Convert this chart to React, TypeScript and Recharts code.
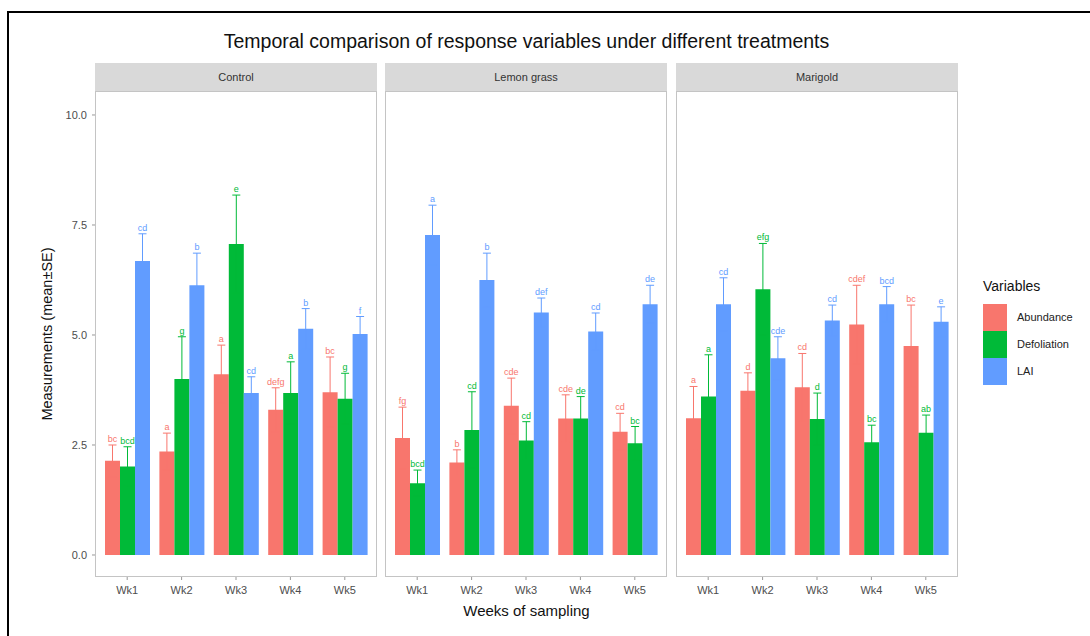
import { BarChart, Bar, XAxis, YAxis, ErrorBar, LabelList } from "recharts";

const weeks = ["Wk1", "Wk2", "Wk3", "Wk4", "Wk5"];
const treatments = ["Control", "Lemon grass", "Marigold"];
const yTicks = [0, 2.5, 5, 7.5, 10];

// one row per treatment (Control, Lemon grass, Marigold), one value per week
const abundanceMean = [
  [2.14, 2.35, 4.11, 3.3, 3.7],
  [2.66, 2.1, 3.39, 3.1, 2.8],
  [3.11, 3.73, 3.81, 5.24, 4.75],
];
const abundanceSE = [
  [0.36, 0.42, 0.66, 0.5, 0.8],
  [0.7, 0.29, 0.63, 0.54, 0.42],
  [0.72, 0.41, 0.77, 0.89, 0.93],
];
const abundanceLetters = [
  ["bc", "a", "a", "defg", "bc"],
  ["fg", "b", "cde", "cde", "cd"],
  ["a", "d", "cd", "cdef", "bc"],
];

const defoliationMean = [
  [2.01, 4.0, 7.07, 3.68, 3.55],
  [1.63, 2.84, 2.6, 3.1, 2.54],
  [3.6, 6.04, 3.09, 2.56, 2.78],
];
const defoliationSE = [
  [0.45, 0.96, 1.11, 0.71, 0.58],
  [0.3, 0.87, 0.43, 0.5, 0.38],
  [0.95, 1.04, 0.59, 0.39, 0.4],
];
const defoliationLetters = [
  ["bcd", "g", "e", "a", "g"],
  ["bcd", "cd", "cd", "de", "bc"],
  ["a", "efg", "d", "bc", "ab"],
];

const laiMean = [
  [6.68, 6.13, 3.68, 5.14, 5.02],
  [7.27, 6.25, 5.51, 5.08, 5.7],
  [5.7, 4.47, 5.33, 5.7, 5.3],
];
const laiSE = [
  [0.62, 0.73, 0.37, 0.46, 0.4],
  [0.68, 0.61, 0.33, 0.42, 0.43],
  [0.6, 0.49, 0.35, 0.4, 0.34],
];
const laiLetters = [
  ["cd", "b", "cd", "b", "f"],
  ["a", "b", "def", "cd", "de"],
  ["cd", "cde", "cd", "bcd", "e"],
];

const FONT = '"Liberation Sans", Arial, sans-serif';
const RED = "#F8766D";
const GREEN = "#00BA38";
const BLUE = "#619CFF";

const PANEL_LEFT = [95, 385, 676];
const PANEL_W = 282;
const PANEL_TOP = 91;
const PLOT_H = 486;
const AXIS_H = 30;
const Y_MIN = -0.5;
const Y_MAX = 10.545;
const PX_PER_UNIT = PLOT_H / (Y_MAX - Y_MIN);

const letterLabel = (rows: any[], errKey: string, color: string) => (p: any) => {
  const vb = p.viewBox ?? p;
  const err = rows[p.index]?.[errKey] ?? 0;
  return (
    <text
      x={vb.x + vb.width / 2}
      y={vb.y - err * PX_PER_UNIT - 3}
      textAnchor="middle"
      fontSize={9}
      fill={color}
      fontFamily={FONT}
    >
      {p.value}
    </text>
  );
};

const Panel = ({ t }: { t: number }) => {
  const rows = weeks.map((w, i) => ({
    week: w,
    ab: abundanceMean[t][i],
    abErr: abundanceSE[t][i],
    abLet: abundanceLetters[t][i],
    def: defoliationMean[t][i],
    defErr: defoliationSE[t][i],
    defLet: defoliationLetters[t][i],
    lai: laiMean[t][i],
    laiErr: laiSE[t][i],
    laiLet: laiLetters[t][i],
  }));
  const first = t === 0;
  const yw = first ? 60 : 0;
  const series = [
    { key: "ab", color: RED },
    { key: "def", color: GREEN },
    { key: "lai", color: BLUE },
  ];

  return (
    <>
      <div
        style={{
          position: "absolute",
          left: PANEL_LEFT[t],
          top: 63,
          width: PANEL_W,
          height: 28,
          background: "#d9d9d9",
          color: "#333",
          fontSize: 11,
          lineHeight: "28px",
          textAlign: "center",
        }}
      >
        {treatments[t]}
      </div>
      <div
        style={{
          position: "absolute",
          left: PANEL_LEFT[t],
          top: PANEL_TOP,
          width: PANEL_W,
          height: PLOT_H,
          border: "1px solid #c4c4c4",
          boxSizing: "border-box",
        }}
      />
      <div style={{ position: "absolute", left: PANEL_LEFT[t] - yw, top: PANEL_TOP }}>
        <BarChart
          width={PANEL_W + yw}
          height={PLOT_H + AXIS_H}
          data={rows}
          margin={{ top: 0, right: 0, bottom: 0, left: 0 }}
          barCategoryGap={5}
          barGap={0}
        >
          <XAxis
            dataKey="week"
            padding={{ left: 5, right: 5 }}
            axisLine={false}
            tickSize={3}
            tickMargin={6}
            tickLine={{ stroke: "#999" }}
            tick={{ fill: "#4d4d4d", fontSize: 11, fontFamily: FONT }}
            height={AXIS_H}
            interval={0}
          />
          <YAxis
            type="number"
            domain={[Y_MIN, Y_MAX]}
            allowDataOverflow
            ticks={yTicks}
            tickFormatter={(v: number) => v.toFixed(1)}
            width={yw}
            hide={!first}
            axisLine={false}
            tickSize={3}
            tickMargin={5}
            tickLine={{ stroke: "#999" }}
            tick={{ fill: "#4d4d4d", fontSize: 11, fontFamily: FONT }}
          />
          {series.map((s) => (
            <Bar key={s.key} dataKey={s.key} fill={s.color} isAnimationActive={false}>
              <ErrorBar dataKey={s.key + "Err"} direction="y" width={4} stroke={s.color} strokeWidth={1} />
              <LabelList dataKey={s.key + "Let"} content={letterLabel(rows, s.key + "Err", s.color)} />
            </Bar>
          ))}
        </BarChart>
      </div>
    </>
  );
};

const legendItems = [
  { label: "Abundance", color: RED },
  { label: "Defoliation", color: GREEN },
  { label: "LAI", color: BLUE },
];

export default function App() {
  return (
    <div
      style={{
        position: "absolute",
        left: 0,
        top: 0,
        width: 1090,
        height: 636,
        overflow: "hidden",
        background: "#fff",
        fontFamily: FONT,
      }}
    >
      <div
        style={{
          position: "absolute",
          left: 7,
          top: 11,
          width: 1120,
          height: 700,
          border: "2px solid #000",
        }}
      />
      <div
        style={{
          position: "absolute",
          left: 95,
          width: 863,
          top: 30,
          textAlign: "center",
          fontSize: 19.5,
          color: "#111",
        }}
      >
        Temporal comparison of response variables under different treatments
      </div>
      <div
        style={{
          position: "absolute",
          left: 47 - 150,
          top: 334 - 10,
          width: 300,
          height: 20,
          lineHeight: "20px",
          textAlign: "center",
          fontSize: 14.5,
          color: "#111",
          transform: "rotate(-90deg)",
        }}
      >
        Measurements (mean±SE)
      </div>
      {treatments.map((_, t) => (
        <Panel key={t} t={t} />
      ))}
      <div
        style={{
          position: "absolute",
          left: 95,
          width: 863,
          top: 602,
          textAlign: "center",
          fontSize: 15,
          color: "#111",
        }}
      >
        Weeks of sampling
      </div>
      <div style={{ position: "absolute", left: 983, top: 278, fontSize: 14, color: "#111" }}>
        Variables
      </div>
      {legendItems.map((it, i) => (
        <div key={it.label} style={{ position: "absolute", left: 983, top: 304 + i * 27 }}>
          <div style={{ position: "absolute", left: 0, top: 0, width: 24, height: 27, background: it.color }} />
          <div
            style={{
              position: "absolute",
              left: 34,
              top: 0,
              lineHeight: "27px",
              fontSize: 11,
              color: "#222",
              whiteSpace: "nowrap",
            }}
          >
            {it.label}
          </div>
        </div>
      ))}
    </div>
  );
}
